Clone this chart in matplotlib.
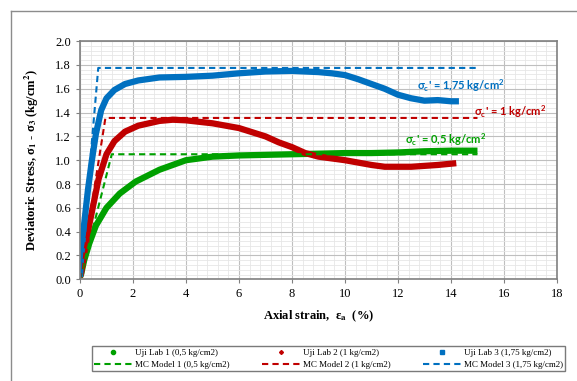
import numpy as np
import matplotlib
matplotlib.use("Agg")
import matplotlib.pyplot as plt
from matplotlib.lines import Line2D
from matplotlib.ticker import MultipleLocator

plt.rcParams['mathtext.fontset'] = 'custom'
plt.rcParams['mathtext.rm'] = 'Lato'
plt.rcParams['mathtext.bf'] = 'Lato:bold'

# lab test data (axial strain %, deviatoric stress kg/cm2)
lab1_x = [0, 0.04, 0.16, 0.35, 0.6, 1.0, 1.5, 2.1, 3.0, 4.0, 5.0, 6.0, 7.0, 8.0, 9.0, 10.0, 11.0, 12.0, 13.0, 14.0, 15.0]
lab1_y = [0.02, 0.04, 0.16, 0.30, 0.45, 0.60, 0.72, 0.82, 0.92, 1.00, 1.03, 1.04, 1.045, 1.05, 1.055, 1.06, 1.06, 1.065, 1.075, 1.08, 1.08]

lab2_x = [0, 0.04, 0.16, 0.29, 0.48, 0.7, 1.0, 1.3, 1.7, 2.2, 3.0, 3.5, 4.0, 5.0, 6.0, 7.0, 7.5, 8.0, 8.5, 9.0, 10.0, 11.0, 11.5, 12.5, 13.5, 14.2]
lab2_y = [0.02, 0.05, 0.22, 0.39, 0.60, 0.84, 1.05, 1.16, 1.24, 1.29, 1.33, 1.34, 1.335, 1.31, 1.27, 1.20, 1.15, 1.11, 1.06, 1.03, 1.00, 0.96, 0.945, 0.945, 0.96, 0.975]

lab3_x = [0, 0.05, 0.15, 0.3, 0.45, 0.6, 0.8, 1.0, 1.3, 1.7, 2.2, 3.0, 4.0, 5.0, 6.0, 7.0, 8.0, 9.0, 9.5, 10.0, 10.5, 11.0, 11.5, 12.0, 12.5, 13.0, 13.5, 14.0, 14.3]
lab3_y = [0.02, 0.20, 0.45, 0.75, 1.00, 1.22, 1.42, 1.52, 1.59, 1.64, 1.67, 1.695, 1.70, 1.71, 1.73, 1.745, 1.75, 1.74, 1.73, 1.715, 1.68, 1.64, 1.60, 1.55, 1.52, 1.50, 1.505, 1.495, 1.495]

# Mohr-Coulomb model lines
mc1_x = [0, 1.2, 15]
mc1_y = [0, 1.05, 1.05]
mc2_x = [0, 0.96, 15]
mc2_y = [0, 1.355, 1.355]
mc3_x = [0, 0.69, 15]
mc3_y = [0, 1.775, 1.775]

green = "#00A000"
red = "#C00000"
blue = "#0070C0"

fig = plt.figure(figsize=(5.77, 3.81), dpi=100)
ax = fig.add_axes([0.1386, 0.267, 0.8267, 0.625])

ax.plot(lab1_x, lab1_y, color=green, lw=4.5, solid_capstyle="butt")
ax.plot(lab2_x, lab2_y, color=red, lw=4.5, solid_capstyle="butt")
ax.plot(lab3_x, lab3_y, color=blue, lw=4.5, solid_capstyle="butt")
ax.plot(mc1_x, mc1_y, color=green, lw=1.5, ls=(0, (3, 2)))
ax.plot(mc2_x, mc2_y, color=red, lw=1.5, ls=(0, (3, 2)))
ax.plot(mc3_x, mc3_y, color=blue, lw=1.5, ls=(0, (3, 2)))

ax.set_xlim(0, 18)
ax.set_ylim(0, 2.0)
ax.xaxis.set_major_locator(MultipleLocator(2))
ax.xaxis.set_minor_locator(MultipleLocator(0.4))
ax.yaxis.set_major_locator(MultipleLocator(0.2))
ax.yaxis.set_minor_locator(MultipleLocator(0.04))
ax.yaxis.set_major_formatter(matplotlib.ticker.FormatStrFormatter("%.1f"))
ax.grid(which="major", color="#BFBFBF", lw=0.8)
ax.grid(which="minor", color="#E6E6E6", lw=0.6)
ax.set_axisbelow(True)
for s in ax.spines.values():
    s.set_color("#808080")
    s.set_linewidth(1.2)
ax.tick_params(which="major", length=3, color="#808080", labelsize=9)
ax.tick_params(which="minor", length=0)
for lab in ax.get_xticklabels() + ax.get_yticklabels():
    lab.set_fontfamily("Liberation Serif")

ax.set_xlabel(r"Axial strain,  ε$_\mathbf{a}$  (%)", fontsize=9, fontweight="bold",
              family="Liberation Serif", math_fontfamily="stix", labelpad=6)
ax.set_ylabel(r"Deviatoric Stress, σ$_\mathbf{1}$ - σ$_\mathbf{3}$ (kg/cm$^\mathbf{2}$)", fontsize=9,
              fontweight="bold", family="Liberation Serif", math_fontfamily="stix", labelpad=10)

ann = dict(fontsize=8, fontweight="bold", family=["Lato", "DejaVu Sans"], va="center", ha="left")
ax.text(12.7, 1.63, r"σ$_\mathbf{c}$' = 1,75 kg/cm$^\mathbf{2}$", color=blue, **ann)
ax.text(14.85, 1.405, r"σ$_\mathbf{c}$' = 1 kg/cm$^\mathbf{2}$", color=red, **ann)
ax.text(12.26, 1.17, r"σ$_\mathbf{c}$' = 0,5 kg/cm$^\mathbf{2}$", color=green, **ann)

# outer chart frame
fig.add_artist(Line2D([0.019, 0.019], [0, 0.971], color="#8C8C8C", lw=1, transform=fig.transFigure))
fig.add_artist(Line2D([0.019, 1], [0.971, 0.971], color="#8C8C8C", lw=1, transform=fig.transFigure))

handles = [
    Line2D([], [], ls="none", marker="o", ms=3, color=green),
    Line2D([], [], color=green, lw=1.5, ls=(0, (3, 2))),
    Line2D([], [], ls="none", marker="D", ms=2, color=red),
    Line2D([], [], color=red, lw=1.5, ls=(0, (3, 2))),
    Line2D([], [], ls="none", marker="s", ms=3, color=blue),
    Line2D([], [], color=blue, lw=1.5, ls=(0, (3, 2))),
]
labels = ["Uji Lab 1 (0,5 kg/cm2)", "MC Model 1 (0,5 kg/cm2)",
          "Uji Lab 2 (1 kg/cm2)", "MC Model 2 (1 kg/cm2)",
          "Uji Lab 3 (1,75 kg/cm2)", "MC Model 3 (1,75 kg/cm2)"]
leg = fig.legend(handles, labels, ncol=3, loc="lower left", mode="expand",
                 bbox_to_anchor=(87 / 577, 5 / 381, 483 / 577, 34 / 381),
                 bbox_transform=fig.transFigure, fancybox=False, handlelength=4.2,
                 handletextpad=0.3, borderpad=0.3, labelspacing=0.35, columnspacing=1.0,
                 prop={"family": "Liberation Serif", "size": 6.5})
leg.get_frame().set_edgecolor("#595959")
leg.get_frame().set_linewidth(1.0)

fig.savefig("out.png", dpi=100)
